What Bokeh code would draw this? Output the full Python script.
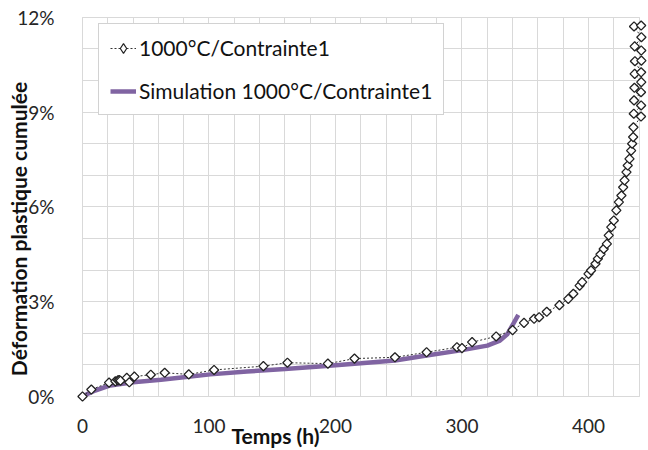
import math
from bokeh.plotting import figure
from bokeh.models import (FixedTicker, PrintfTickFormatter, Label, Legend, LegendItem,
                          Range1d, BoxAnnotation)
from bokeh.embed import file_html
from bokeh.resources import INLINE

# ---- data ----
exp_hours = [0, 7, 21, 26, 28, 29, 30, 35, 37, 41, 54, 65, 84, 104, 143, 162, 194, 215,
             247, 272, 296, 300, 308, 327, 340, 349, 357, 361, 367, 377, 384, 388, 393,
             395, 400, 402, 405.5, 407.4, 409.5, 412, 414.5, 416, 418, 420, 422, 424, 426,
             427.4, 428.5, 430, 431, 432.4, 433.7, 434.5, 435.3,
             435.5, 441.5, 435.8, 441.6, 436.0, 441.5, 436.3, 441.7, 436.5, 441.6,
             436.7, 441.8, 441.7, 436.5, 441.8, 436.0, 441.6]
exp_strain = [0, 0.22, 0.44, 0.48, 0.51, 0.52, 0.50, 0.59, 0.45, 0.63, 0.69, 0.75, 0.70, 0.84,
              0.96, 1.07, 1.04, 1.20, 1.24, 1.40, 1.56, 1.53, 1.72, 1.90, 2.10, 2.33, 2.46,
              2.51, 2.68, 2.89, 3.09, 3.25, 3.51, 3.62, 3.88, 3.99, 4.20, 4.36, 4.50, 4.67,
              4.83, 5.10, 5.36, 5.57, 5.89, 6.15, 6.36, 6.62, 6.84, 7.10, 7.31, 7.52, 7.78,
              8.00, 8.21,
              8.52, 8.86, 8.95, 9.21, 9.37, 9.63, 9.77, 9.95, 10.21, 10.26,
              10.61, 10.63, 10.95, 11.08, 11.37, 11.71, 11.74]

sim_hours = [0, 5, 10, 22, 40, 62, 80, 101, 130, 160, 190, 220, 247, 272, 299, 320, 330,
             336, 340.5, 344.5]
sim_strain = [0, 0.10, 0.19, 0.35, 0.45, 0.53, 0.61, 0.70, 0.79, 0.87, 0.96, 1.05, 1.14,
              1.30, 1.46, 1.61, 1.77, 1.98, 2.30, 2.58]

x_ticks = [0, 100, 200, 300, 400]
x_minor = list(range(0, 441, 20))
y_ticks = [0, 3, 6, 9, 12]
y_minor = list(range(0, 13))

series_names = ["1000°C/Contrainte1", "Simulation 1000°C/Contrainte1"]
x_title = "Temps (h)"
y_title = "Déformation plastique cumulée"

FONT = "Lato"
GRID = "#d9d9d9"
X_MAX = 440
Y_MAX = 12

p = figure(width=648, height=450, output_backend="svg", toolbar_location=None,
           x_range=Range1d(-64.82, 447.43), y_range=Range1d(-1.709, 12.532),
           min_border=0)
p.outline_line_color = None
p.background_fill_color = "white"

# axes drawn at the data origin
p.xaxis.ticker = FixedTicker(ticks=x_ticks, minor_ticks=x_minor)
p.yaxis.ticker = FixedTicker(ticks=y_ticks, minor_ticks=y_minor)
p.yaxis.formatter = PrintfTickFormatter(format="%d%%")
for ax in (p.xaxis[0], p.yaxis[0]):
    ax.fixed_location = 0
    ax.axis_line_color = None
    ax.major_tick_line_color = None
    ax.minor_tick_line_color = None
    ax.major_label_text_font = FONT
    ax.major_label_text_font_size = "19px"
    ax.major_label_text_color = "#262626"
p.xaxis.major_label_standoff = 17
p.yaxis.major_label_standoff = 22

xg, yg = p.xgrid[0], p.ygrid[0]
for g in (xg, yg):
    g.grid_line_color = GRID
    g.minor_grid_line_color = GRID
    g.grid_line_width = 1
    g.minor_grid_line_width = 1
xg.bounds = (0, X_MAX)
yg.bounds = (0, Y_MAX)
try:
    xg.cross_bounds = (0, Y_MAX)
    yg.cross_bounds = (0, X_MAX)
except Exception:
    for kw in (dict(top=0), dict(right=0)):
        p.add_layout(BoxAnnotation(fill_color="white", fill_alpha=1, line_color=None,
                                   level="underlay", **kw))

# series
sim = p.line(sim_hours, sim_strain, line_color="#8064A2", line_width=4.5)
exp_line = p.line(exp_hours, exp_strain, line_color="#333333", line_width=1, line_dash="2 2")
exp_pts = p.scatter(exp_hours, exp_strain, marker="square", angle=math.pi / 4, size=6.5,
                    fill_color="white", line_color="#222222", line_width=1.3)
# legend-only diamond (hidden in the plot area)
leg_marker = p.scatter(exp_hours[:1], exp_strain[:1], marker="diamond", size=8,
                       fill_color="white", line_color="#222222", line_width=1.2,
                       visible=False)

legend = Legend(items=[LegendItem(label=series_names[0], renderers=[exp_line, leg_marker]),
                       LegendItem(label=series_names[1], renderers=[sim])],
                location=(98, 335), orientation="vertical")
legend.label_text_font = FONT
legend.label_text_font_size = "21px"
legend.label_text_color = "#111111"
legend.glyph_width = 26
legend.glyph_height = 24
legend.label_height = 24
legend.label_standoff = 3
legend.spacing = 18
legend.padding = 11
legend.margin = 0
legend.border_line_color = "#a6a6a6"
legend.border_line_width = 1.5
legend.background_fill_color = "white"
legend.background_fill_alpha = 1
p.add_layout(legend, "center")

# axis titles
p.add_layout(Label(x=152.6, y=-1.234, text=x_title, text_align="center", text_baseline="middle",
                   text_font=FONT, text_font_size="21px", text_font_style="bold",
                   text_color="#111111"))
p.add_layout(Label(x=-50.2, y=5.3, text=y_title, angle=math.pi / 2, text_align="center",
                   text_baseline="middle", text_font=FONT, text_font_size="21px",
                   text_font_style="bold", text_color="#111111"))

open("out.html", "w").write(file_html(p, INLINE))
